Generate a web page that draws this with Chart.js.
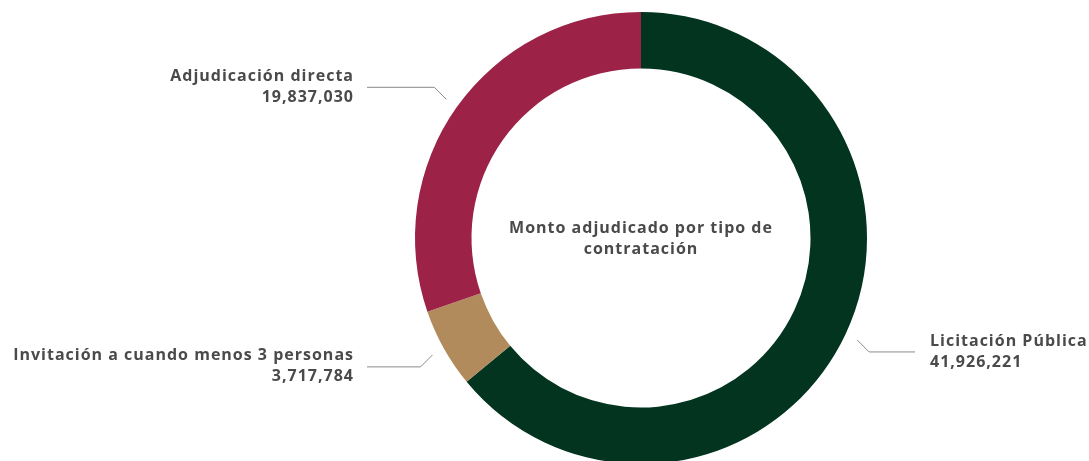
<!DOCTYPE html>
<html>
<head>
<meta charset="utf-8">
<script src="https://cdn.jsdelivr.net/npm/chart.js@4"></script>
<style>
  html, body { margin: 0; padding: 0; background: #fff; }
  #wrap { width: 1089px; height: 461px; overflow: hidden; position: relative; }
  #wrap canvas { display: block; }
</style>
</head>
<body>
<div id="wrap"><canvas id="montoChart" width="1089" height="480"></canvas></div>
<script>
// monto adjudicado por tipo de contratación
const tipos = ['Licitación Pública', 'Invitación a cuando menos 3 personas', 'Adjudicación directa'];
const montos = [41926221, 3717784, 19837030];
const colores = ['#023420', '#b28b5d', '#9c2248'];
const titulo = ['Monto adjudicado por tipo de', 'contratación'];

const FONT = 'bold 16px "Open Sans", sans-serif';
const TEXT = '#4a4a4a';

function setText(ctx) {
  ctx.fillStyle = TEXT;
  ctx.font = FONT;
  ctx.letterSpacing = '1px';
  ctx.textBaseline = 'middle';
}

// leader lines + two-line labels outside each slice
const sliceLabels = {
  id: 'sliceLabels',
  afterDraw(chart) {
    const ctx = chart.ctx;
    const meta = chart.getDatasetMeta(0);
    ctx.save();
    meta.data.forEach((arc, i) => {
      const { x: cx, y: cy, outerRadius, startAngle, endAngle } = arc.getProps(['x', 'y', 'outerRadius', 'startAngle', 'endAngle'], true);
      const mid = (startAngle + endAngle) / 2;
      const r = outerRadius + 13;
      const x0 = cx + Math.cos(mid) * r;
      const y0 = cy + Math.sin(mid) * r;
      const sx = x0 < cx ? -1 : 1;
      const sy = y0 < cy ? -1 : 1;
      const x1 = x0 + sx * 12;
      const y1 = y0 + sy * 12;
      const x2 = cx + sx * 274;

      ctx.strokeStyle = '#8a8a8a';
      ctx.lineWidth = 1;
      ctx.beginPath();
      ctx.moveTo(x0, y0);
      ctx.lineTo(x1, y1);
      ctx.lineTo(x2, y1);
      ctx.stroke();

      setText(ctx);
      ctx.textAlign = sx < 0 ? 'right' : 'left';
      const tx = x2 + sx * (sx < 0 ? 13 : 15);
      ctx.fillText(tipos[i], tx, y1 - 11);
      ctx.fillText(montos[i].toLocaleString('en-US'), tx, y1 + 10);
    });

    // centre title
    setText(ctx);
    ctx.textAlign = 'center';
    const c = meta.data[0];
    ctx.fillText(titulo[0], c.x, c.y - 10);
    ctx.fillText(titulo[1], c.x, c.y + 11);
    ctx.restore();
  }
};

const ctx = document.getElementById('montoChart').getContext('2d');
new Chart(ctx, {
  type: 'doughnut',
  data: {
    labels: tipos,
    datasets: [{
      data: montos,
      backgroundColor: colores,
      borderWidth: 0
    }]
  },
  options: {
    responsive: false,
    animation: false,
    cutout: '75%',
    layout: { padding: { top: 12, bottom: 16, left: 415, right: 222 } },
    plugins: {
      legend: { display: false },
      tooltip: { enabled: false }
    }
  },
  plugins: [sliceLabels]
});
</script>
</body>
</html>
